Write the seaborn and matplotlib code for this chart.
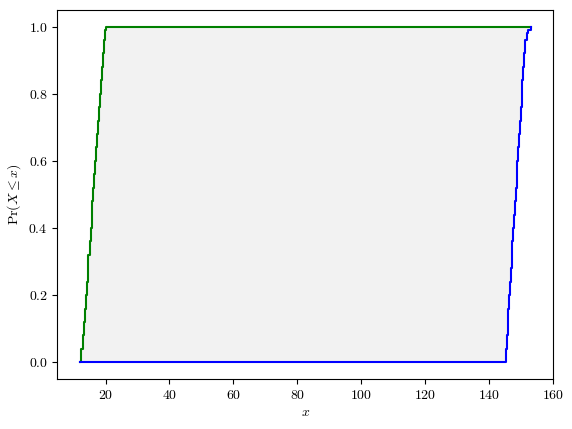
import numpy as np
import pandas as pd
import matplotlib
matplotlib.use("Agg")
import matplotlib.pyplot as plt
import seaborn as sns

# Step points of the two bounding CDFs
probs = [0.00, 0.02, 0.04, 0.08, 0.12, 0.16, 0.20, 0.24, 0.28, 0.32, 0.36, 0.40, 0.44, 0.48,
         0.52, 0.56, 0.60, 0.64, 0.68, 0.72, 0.76, 0.80, 0.84, 0.88, 0.92, 0.96, 0.98, 0.99, 1.00]
upper_x = [12.0, 12.2, 12.45, 12.8, 13.1, 13.45, 13.75, 14.05, 14.35, 14.65, 15.0, 15.3, 15.6,
           15.9, 16.2, 16.5, 16.8, 17.1, 17.4, 17.7, 18.05, 18.35, 18.65, 18.95, 19.3, 19.6,
           19.8, 19.9, 20.0]
lower_x = [145.0, 145.15, 145.3, 145.5, 145.8, 146.05, 146.3, 146.55, 146.8, 147.05, 147.3,
           147.6, 147.85, 148.1, 148.35, 148.6, 148.9, 149.15, 149.4, 149.65, 149.9, 150.2,
           150.45, 150.7, 151.0, 151.35, 151.8, 152.3, 153.0]

plt.rcParams["font.family"] = "serif"
plt.rcParams["font.serif"] = ["cmr10"]
plt.rcParams["mathtext.fontset"] = "cm"
plt.rcParams["axes.formatter.use_mathtext"] = True
plt.rcParams["axes.unicode_minus"] = False

# full curves: upper bound runs on at 1 to the right, lower bound sits at 0 on the left
up = pd.DataFrame({"x": upper_x + [lower_x[-1]], "p": probs + [1.0]})
lo = pd.DataFrame({"x": [upper_x[0]] + lower_x, "p": [0.0] + probs})


def step_path(xs, ys):
    xs = np.asarray(xs)
    ys = np.asarray(ys)
    px = np.repeat(xs, 2)[1:]
    py = np.repeat(ys, 2)[:-1]
    return px, py


fig, ax = plt.subplots(figsize=(5.72, 4.29), dpi=100)
fig.subplots_adjust(left=0.1005, right=0.967, top=0.977, bottom=0.1166)

ux, uy = step_path(up["x"], up["p"])
lx, ly = step_path(lo["x"], lo["p"])
ax.fill(np.concatenate([ux, lx[::-1]]), np.concatenate([uy, ly[::-1]]),
        color="grey", alpha=0.1, linewidth=0)

sns.lineplot(data=up, x="x", y="p", sort=False, estimator=None, color="green",
             drawstyle="steps-post", linewidth=1.5, ax=ax)
sns.lineplot(data=lo, x="x", y="p", sort=False, estimator=None, color="blue",
             drawstyle="steps-post", linewidth=1.5, ax=ax)

ax.set_xlabel("$x$")
ax.set_ylabel(r"$\Pr(X \leq x)$")

plt.savefig("out.png", dpi=100)
